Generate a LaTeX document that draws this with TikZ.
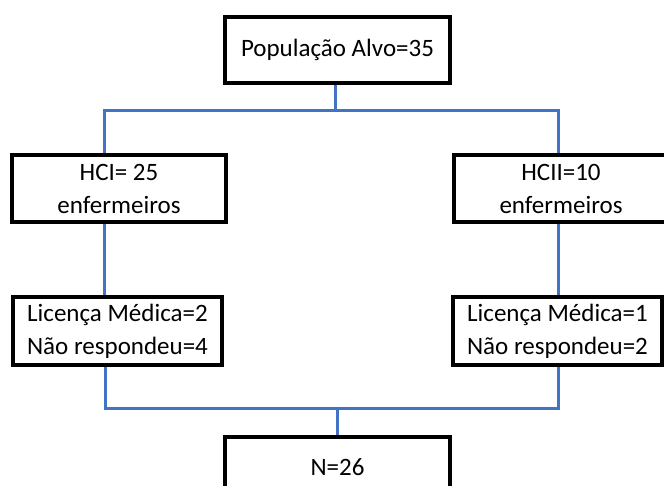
\documentclass[tikz,border=0pt]{standalone}
\usepackage{fontspec}
\setmainfont{Carlito}
\usepackage{tikz}
\usetikzlibrary{positioning}

\definecolor{linkblue}{RGB}{68,114,196}

\begin{document}
\begin{tikzpicture}[x=1pt, y=-1pt,
    box/.style={draw, line width=4pt, fill=white, align=center, inner sep=0pt,
                font=\fontsize{25}{33}\selectfont},
    link/.style={linkblue, line width=3pt}]
    \clip (0,0) rectangle (664,486);
    \fill[white] (0,0) rectangle (664,486);

    % Boxes
    \node[box, minimum width=225pt, minimum height=66pt] (pop) at (337.5,50) {População Alvo=35};
    \node[box, minimum width=214pt, minimum height=67pt] (hci) at (119,188.5) {HCI= 25\\enfermeiros};
    \node[box, minimum width=214pt, minimum height=67pt] (hcii) at (561,188.5) {HCII=10\\enfermeiros};
    \node[box, minimum width=209pt, minimum height=68pt] (lic1) at (117.5,331) {Licença Médica=2\\Não respondeu=4};
    \node[box, minimum width=209pt, minimum height=68pt] (lic2) at (557.5,331) {Licença Médica=1\\Não respondeu=2};
    \node[box, minimum width=225pt, minimum height=60pt] (n) at (337.5,467) {N=26};

    % Branch points
    \coordinate (splitL) at (104,111);
    \coordinate (splitR) at (558,111);
    \coordinate (joinL) at (105,408);
    \coordinate (joinR) at (558,408);

    % Connectors
    \draw[link] (pop.south -| 335,0) -- (335,111);
    \draw[link] (hci.north -| splitL) -- (splitL) -- (splitR) -- (hcii.north -| splitR);
    \draw[link] (hci.south -| splitL) -- (lic1.north -| splitL);
    \draw[link] (hcii.south -| splitR) -- (lic2.north -| splitR);
    \draw[link] (lic1.south -| joinL) -- (joinL) -- (joinR) -- (lic2.south -| joinR);
    \draw[link] (337,408) -- (n.north -| 337,0);
\end{tikzpicture}
\end{document}
